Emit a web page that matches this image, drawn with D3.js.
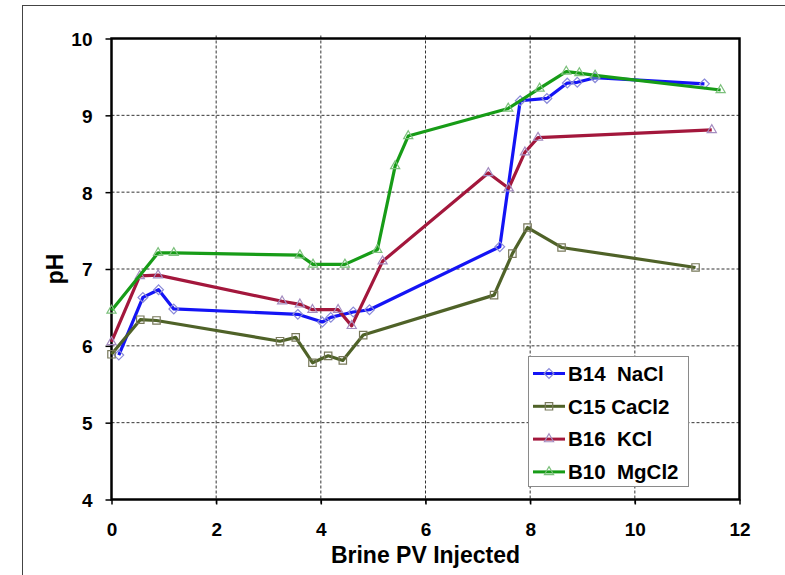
<!DOCTYPE html>
<html>
<head>
<meta charset="utf-8">
<script src="https://cdn.jsdelivr.net/npm/d3@7"></script>
<style>
  html, body { margin: 0; padding: 0; background: #fff; }
  svg { display: block; }
  text { font-family: "Liberation Sans", Arial, sans-serif; font-weight: bold; fill: #000; }
</style>
</head>
<body>
<svg id="chart" width="785" height="575"></svg>
<script>
// Brine PV injected (x) and effluent pH (y) for each core flood
const naclPV  = [0.14, 0.60, 0.90, 1.19, 3.56, 4.03, 4.19, 4.62, 4.93, 7.42, 7.81, 8.32, 8.71, 8.90, 9.24, 11.33];
const naclPH  = [5.88, 6.63, 6.73, 6.48, 6.41, 6.31, 6.37, 6.44, 6.47, 7.29, 9.19, 9.22, 9.42, 9.43, 9.49, 9.41];

const cacl2PV = [0.00, 0.55, 0.86, 3.22, 3.52, 3.84, 4.14, 4.42, 4.81, 7.31, 7.66, 7.95, 8.60, 11.16];
const cacl2PH = [5.89, 6.34, 6.33, 6.06, 6.11, 5.78, 5.87, 5.81, 6.14, 6.66, 7.20, 7.54, 7.28, 7.02];

const kclPV   = [0.00, 0.54, 0.89, 3.26, 3.60, 3.84, 4.33, 4.59, 5.18, 7.20, 7.59, 7.90, 8.15, 11.47];
const kclPH   = [6.05, 6.91, 6.92, 6.58, 6.54, 6.47, 6.47, 6.26, 7.10, 8.25, 8.05, 8.52, 8.71, 8.81];

const mgcl2PV = [0.00, 0.89, 1.19, 3.60, 3.85, 4.46, 5.08, 5.42, 5.67, 7.58, 8.18, 8.69, 8.94, 9.24, 11.64];
const mgcl2PH = [6.46, 7.21, 7.21, 7.18, 7.06, 7.06, 7.25, 8.34, 8.73, 9.09, 9.35, 9.57, 9.55, 9.52, 9.33];

const seriesNames = ["B14  NaCl", "C15 CaCl2", "B16  KCl", "B10  MgCl2"];
const xTicks = [0, 2, 4, 6, 8, 10, 12];
const yTicks = [4, 5, 6, 7, 8, 9, 10];

const series = [
  { name: seriesNames[0], x: naclPV,  y: naclPH,  line: "#1414f5", mark: "#8a8ad8", sym: d3.symbolDiamond2, size: 60 },
  { name: seriesNames[1], x: cacl2PV, y: cacl2PH, line: "#4f6228", mark: "#77785a", sym: d3.symbolSquare2,  size: 70 },
  { name: seriesNames[2], x: kclPV,   y: kclPH,   line: "#a3173c", mark: "#a48cc0", sym: d3.symbolTriangle2, size: 60 },
  { name: seriesNames[3], x: mgcl2PV, y: mgcl2PH, line: "#179c17", mark: "#7cc07c", sym: d3.symbolTriangle2, size: 60 }
];

const svg = d3.select("#chart");

// outer chart frame
svg.append("rect")
  .attr("x", 22.5).attr("y", 5.5).attr("width", 800).attr("height", 600)
  .attr("fill", "none").attr("stroke", "#444").attr("stroke-width", 1);

const plotL = 111.5, plotR = 739.5, plotT = 38.5, plotB = 499.5;
const x = d3.scaleLinear().domain([0, 12]).range([plotL, plotR]);
const y = d3.scaleLinear().domain([4, 10]).range([plotB, plotT]);

// dashed gridlines
const grid = svg.append("g").attr("stroke", "#333").attr("stroke-width", 1).attr("stroke-dasharray", "3,2");
grid.selectAll("line.h").data(yTicks.filter(v => v > 4 && v < 10)).join("line")
  .attr("class", "h")
  .attr("x1", plotL).attr("x2", plotR).attr("y1", d => y(d)).attr("y2", d => y(d));
grid.selectAll("line.v").data(xTicks.filter(v => v > 0 && v < 12)).join("line")
  .attr("class", "v")
  .attr("y1", plotT - 3).attr("y2", plotB + 5).attr("x1", d => x(d)).attr("x2", d => x(d));

// axes
const yAxis = svg.append("g").attr("transform", `translate(${plotL},0)`)
  .call(d3.axisLeft(y).tickValues(yTicks).tickSize(6).tickPadding(13).tickFormat(d3.format("d")));
const xAxis = svg.append("g").attr("transform", `translate(0,${plotB})`)
  .call(d3.axisBottom(x).tickValues(xTicks).tickSize(5).tickPadding(18).tickFormat(d3.format("d")));
[yAxis, xAxis].forEach(g => {
  g.select(".domain").remove();
  g.selectAll(".tick line").attr("stroke", "#000").attr("stroke-width", 1.5);
  g.selectAll(".tick text").style("font-size", "19px").style("font-family", "'Liberation Sans', Arial, sans-serif").style("font-weight", "bold");
});
yAxis.selectAll(".tick text").attr("dy", "0.36em");

// plot frame
svg.append("rect")
  .attr("x", plotL).attr("y", plotT).attr("width", plotR - plotL).attr("height", plotB - plotT)
  .attr("fill", "none").attr("stroke", "#000").attr("stroke-width", 2.5);

// series lines and markers
const lineGen = d3.line().x(d => x(d[0])).y(d => y(d[1]));
series.forEach(s => {
  const pts = s.x.map((v, i) => [v, s.y[i]]);
  svg.append("path").datum(pts)
    .attr("d", lineGen).attr("fill", "none")
    .attr("stroke", s.line).attr("stroke-width", 3.2).attr("stroke-linejoin", "round");
  svg.append("g").selectAll("path").data(pts).join("path")
    .attr("transform", d => `translate(${x(d[0])},${y(d[1])})`)
    .attr("d", d3.symbol().type(s.sym).size(s.size))
    .attr("fill", "none").attr("stroke", s.mark).attr("stroke-width", 1.2);
});

// axis titles
svg.append("text")
  .attr("x", (plotL + plotR) / 2).attr("y", 563)
  .attr("text-anchor", "middle").style("font-size", "23px")
  .text("Brine PV Injected");
svg.append("text")
  .attr("transform", `translate(63,${(plotT + plotB) / 2}) rotate(-90)`)
  .attr("text-anchor", "middle").style("font-size", "23px")
  .text("pH");

// legend
const lg = svg.append("g");
lg.append("rect")
  .attr("x", 528.5).attr("y", 356.5).attr("width", 160).attr("height", 130)
  .attr("fill", "#fff").attr("stroke", "#8a8a8a").attr("stroke-width", 1);
series.forEach((s, i) => {
  const cy = 373.5 + i * 32.8;
  lg.append("line").attr("x1", 533).attr("x2", 565).attr("y1", cy).attr("y2", cy)
    .attr("stroke", s.line).attr("stroke-width", 3);
  lg.append("path").attr("transform", `translate(549,${cy})`)
    .attr("d", d3.symbol().type(s.sym).size(s.size))
    .attr("fill", "none").attr("stroke", s.mark).attr("stroke-width", 1.2);
  lg.append("text").attr("x", 568).attr("y", cy).attr("dy", "0.36em")
    .style("font-size", "20.5px").style("white-space", "pre")
    .text(s.name);
});
</script>
</body>
</html>
